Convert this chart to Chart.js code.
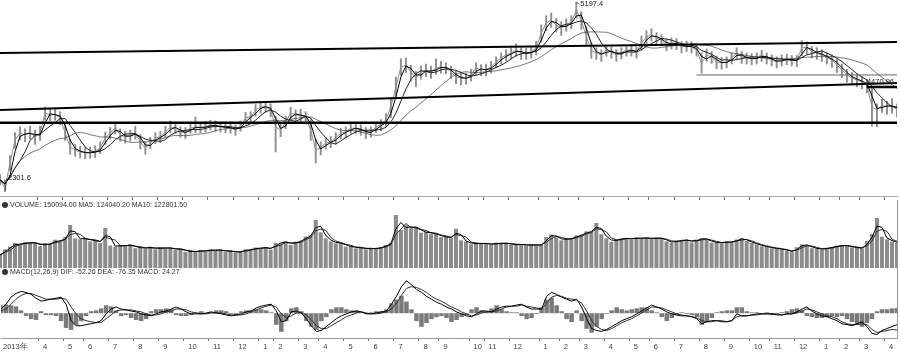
<!DOCTYPE html>
<html>
<head>
<meta charset="utf-8">
<script src="https://cdn.jsdelivr.net/npm/chart.js@4.4.1/dist/chart.umd.min.js"></script>
<style>
  body { margin: 0; background: #fff; width: 900px; height: 354px; overflow: hidden; position: relative; font-family: "Liberation Sans", Arial, sans-serif; }
  canvas { position: absolute; left: 0; }
  #price { top: 0; }
  #vol { top: 200px; }
  #macd { top: 268px; }
  .hdr { position: absolute; left: 2px; font-size: 7px; line-height: 9px; color: #333; white-space: nowrap; }
  .hdr i { display: inline-block; width: 6px; height: 6px; border-radius: 50%; background: #333; margin-right: 2px; vertical-align: -1px; }
</style>
</head>
<body>
<canvas id="price" width="900" height="200"></canvas>
<canvas id="vol" width="900" height="68"></canvas>
<canvas id="macd" width="900" height="86"></canvas>
<div class="hdr" style="top:200px"><i></i>VOLUME: 150094.00 MA5: 124040.20 MA10: 122801.50</div>
<div class="hdr" style="top:267px"><i></i>MACD(12,26,9) DIF: -52.26 DEA: -76.35 MACD: 24.27</div>
<script>
//month labels and the sample where each month starts
var monthIdx = [0,8,13,17,22,27,32,37,42,47, 52,55,60,64,69,74,79,84,88,94,97,102, 108,112,116,121,126,130,135,140,145,150,154,159, 164,168,172,177];
var monthLabels = ['2013年','4','5','6','7','8','9','10','11','12', '1','2','3','4','5','6','7','8','9','10','11','12', '1','2','3','4','5','6','7','8','9','10','11','12', '1','2','3','4'];

//price samples (close / high / low)
var closes = [
  2476,2354,2736,3088,3195,3165,3210,3134,3195,3501,
  3471,3480,3425,3195,2981,2935,2904,2889,2895,2910,
  2966,3119,3195,3272,3165,3134,3160,3195,3057,2966,
  3042,3119,3134,3210,3287,3272,3210,3195,3272,3287,
  3275,3290,3318,3302,3287,3280,3272,3241,3302,3425,
  3440,3547,3593,3600,3547,3287,3241,3363,3501,3471,
  3465,3440,3241,2935,2966,3042,3057,3119,3195,3210,
  3272,3265,3241,3195,3210,3287,3318,3394,3593,3899,
  4205,4236,4128,4037,4128,4159,4128,4190,4205,4190,
  4128,4052,4037,4030,4083,4190,4159,4165,4205,4281,
  4343,4389,4419,4465,4419,4410,4434,4496,4725,4878,
  4924,4848,4802,4848,4893,5077,4924,4664,4465,4419,
  4389,4465,4434,4389,4419,4465,4458,4434,4572,4664,
  4695,4649,4618,4542,4572,4565,4511,4526,4511,4465,
  4266,4389,4358,4281,4266,4281,4343,4419,4358,4343,
  4327,4343,4389,4343,4312,4281,4312,4327,4312,4305,
  4496,4511,4434,4419,4389,4343,4312,4236,4159,4083,
  4037,4006,3975,3930,3593,3547,3624,3593,3624,3547
];
var highs = [
  2560,2480,2850,3200,3290,3260,3300,3240,3300,3590,
  3560,3580,3520,3330,3100,3020,2990,2970,2980,3000,
  3060,3210,3280,3360,3260,3220,3240,3300,3170,3060,
  3130,3200,3220,3300,3380,3350,3290,3280,3360,3440,
  3350,3370,3390,3380,3360,3350,3350,3320,3380,3510,
  3520,3630,3680,3680,3640,3450,3330,3450,3590,3550,
  3560,3520,3400,3100,3060,3120,3140,3200,3270,3290,
  3350,3340,3320,3280,3290,3360,3400,3490,3720,4050,
  4330,4340,4230,4140,4220,4250,4220,4330,4290,4270,
  4220,4140,4120,4110,4170,4270,4240,4250,4290,4360,
  4420,4470,4500,4560,4500,4490,4510,4600,4850,4990,
  5030,4950,4900,4940,4990,5197,5050,4820,4580,4500,
  4470,4540,4510,4470,4500,4540,4530,4510,4680,4760,
  4790,4730,4700,4630,4650,4640,4590,4600,4590,4540,
  4420,4480,4440,4370,4350,4360,4420,4500,4440,4420,
  4410,4420,4460,4420,4390,4360,4390,4400,4380,4380,
  4610,4590,4520,4500,4470,4420,4390,4320,4250,4170,
  4120,4090,4060,4020,3900,3640,3710,3680,3720,3640
];
var lows = [
  2400,2302,2620,2960,3090,3060,3100,3020,3080,3390,
  3380,3390,3320,3080,2870,2840,2810,2800,2810,2820,
  2880,3020,3100,3180,3070,3040,3070,3100,2950,2870,
  2950,3030,3050,3120,3200,3190,3130,3110,3190,3200,
  3200,3210,3240,3220,3210,3200,3190,3160,3220,3330,
  3350,3450,3500,3510,3440,2904,3140,3260,3400,3380,
  3370,3330,3080,2736,2860,2950,2970,3030,3110,3120,
  3190,3180,3160,3110,3130,3200,3230,3290,3430,3720,
  4080,4120,3990,3900,4020,4060,4030,4090,4110,4100,
  4030,3950,3930,3940,3990,4090,4070,4070,4110,4190,
  4250,4300,4330,4370,4320,4320,4340,4390,4590,4760,
  4810,4740,4690,4750,4790,4950,4780,4530,4340,4320,
  4290,4370,4340,4290,4330,4370,4370,4340,4460,4560,
  4600,4560,4530,4450,4480,4470,4420,4440,4420,4370,
  4110,4290,4260,4180,4170,4190,4250,4320,4260,4250,
  4240,4250,4290,4250,4220,4190,4220,4240,4220,4210,
  4380,4410,4340,4320,4290,4250,4200,4120,4040,3970,
  3930,3900,3870,3810,3300,3290,3510,3480,3500,3440
];

var volumes = [
  78000,112000,128000,150000,138000,156000,149000,152000,131000,148000,
  142000,170000,158000,186000,258000,178000,172000,181000,160000,168000,
  150000,240000,135000,128000,138000,131000,142000,119000,125000,116000,
  128000,112000,124000,118000,121000,108000,117000,96000,102000,95000,
  108000,99000,112000,104000,109000,98000,103000,92000,99000,112000,
  108000,123000,117000,126000,110000,152000,148000,161000,139000,158000,
  163000,189000,196000,288000,214000,178000,160000,148000,151000,128000,
  131000,118000,124000,112000,119000,116000,125000,138000,152000,318000,
  228000,256000,238000,246000,212000,218000,206000,204000,185000,188000,
  179000,236000,166000,158000,142000,151000,144000,149000,138000,152000,
  146000,150000,141000,139000,143000,135000,140000,137000,139000,186000,
  201000,184000,166000,178000,174000,196000,198000,220000,218000,270000,
  203000,178000,158000,172000,176000,180000,171000,184000,176000,182000,
  175000,181000,178000,160000,152000,166000,165000,170000,154000,171000,
  178000,172000,152000,156000,149000,160000,154000,171000,178000,162000,
  150000,142000,130000,128000,118000,116000,112000,104000,95000,124000,
  142000,136000,119000,117000,111000,122000,125000,134000,136000,133000,
  124000,121000,118000,162000,204000,300000,188000,172000,158000,150094
];

var dif = [
  19,41,73,90,99,95,86,68,55,59,
  64,68,73,41,-34,-57,-57,-52,-48,-43,
  -34,-3,19,28,19,15,10,6,-3,-8,
  -12,-3,6,10,19,28,19,6,-3,-3,
  -3,1,6,1,-3,-8,-12,-8,-3,6,
  10,24,32,37,41,10,-39,-34,6,10,
  1,-25,-57,-83,-79,-61,-43,-25,-12,-3,
  6,10,6,-3,-3,1,6,10,41,77,
  121,148,130,108,95,77,64,50,41,28,
  19,6,-3,-12,-16,-3,10,10,6,19,
  28,32,32,37,41,28,19,19,19,77,
  95,86,73,64,55,64,28,-25,-70,-79,
  -83,-74,-61,-48,-34,-25,-16,-3,10,24,
  37,28,19,6,-3,-8,-12,-12,-16,-25,
  -48,-39,-34,-34,-39,-39,-34,-3,-12,-12,
  -8,-3,-3,-3,-3,-8,-8,-3,-3,6,
  19,28,10,-3,-12,-16,-25,-34,-48,-52,
  -57,-48,-39,-61,-92,-97,-79,-70,-61,-52.26
];
var dea = [
  10,19,41,64,81,90,90,81,73,64,
  64,64,68,64,28,-3,-25,-34,-39,-43,
  -43,-25,-8,10,15,15,15,10,6,-3,
  -8,-8,-3,6,10,19,19,15,6,1,
  -3,-3,1,1,1,-3,-8,-8,-8,-3,
  6,15,24,32,37,28,-3,-21,-12,1,
  1,-8,-30,-57,-70,-70,-57,-43,-30,-16,
  -8,1,6,1,-3,-3,1,6,19,46,
  81,113,121,117,108,95,77,64,55,41,
  28,19,6,-3,-12,-8,1,6,6,10,
  19,28,32,32,37,32,28,24,19,46,
  73,81,77,68,64,59,46,10,-34,-61,
  -74,-79,-70,-57,-43,-34,-25,-12,1,15,
  28,28,24,15,6,-3,-8,-12,-16,-21,
  -34,-39,-39,-34,-34,-39,-34,-16,-12,-12,
  -8,-8,-3,-3,-3,-3,-8,-3,-3,1,
  10,19,15,6,-3,-12,-16,-25,-39,-48,
  -52,-52,-48,-52,-74,-88,-83,-79,-74,-76.35
];
var macdHist = [
  36,40,36,31,13,-13,-27,-31,9,-9,
  -9,-13,-36,-67,-76,-53,-36,-13,9,13,
  22,36,31,13,-13,-9,-22,-31,-36,-27,
  9,18,18,22,18,-9,-13,-13,-9,4,
  9,-4,4,13,13,9,-4,-9,9,13,
  13,18,18,13,4,-53,-85,-36,22,27,
  9,-36,-62,-76,-36,-18,18,27,27,18,
  13,13,4,-4,4,9,9,18,45,62,
  80,53,18,-36,-62,-45,-27,-18,-13,-22,
  -40,-31,-18,-9,18,27,13,9,22,36,
  18,9,4,4,-13,-27,-22,-4,27,62,
  71,36,9,-27,-40,13,-36,-71,-89,-62,
  -27,-4,13,27,18,13,18,22,27,27,
  13,4,-18,-36,-22,-9,4,-4,-9,-18,
  -53,-40,-22,4,9,13,13,27,27,9,
  4,4,-4,4,-9,-4,4,9,18,22,
  13,-13,-18,-22,-22,-18,-13,-18,-13,-27,
  -40,-53,-62,-45,-27,9,18,18,22,24.27
];

//drawn lines: [startIdx, startValue, endIdx, endValue]
var trendTop = [0, 4419, 179, 4587];
var trendMid = [0, 3547, 179, 3960];
var supportLine = [0, 3353, 179, 3353];
var boxLine = [139, 4083, 179, 4083];
var markLine = [173, 3899, 179, 3899];

var N = closes.length;
var cats = [];
for (var i = 0; i < N; i++) cats.push('');
monthIdx.forEach(function (d, k) { cats[d] = monthLabels[k]; });

function movingAvg(arr, n) {
  return arr.map(function (v, i) {
    var s = 0, c = 0;
    for (var k = Math.max(0, i - n + 1); k <= i; k++) { s += arr[k]; c++; }
    return s / c;
  });
}

function segment(t) {
  var d = cats.map(function () { return null; });
  d[t[0]] = t[1];
  d[t[2]] = t[3];
  return d;
}

function lineSet(data, color, width, extra) {
  var s = { type: 'line', data: data, borderColor: color, borderWidth: width, pointRadius: 0, tension: 0, fill: false, spanGaps: true };
  for (var k in extra) s[k] = extra[k];
  return s;
}

function monthTick(c) { return cats[c.index] ? '#777' : 'rgba(0,0,0,0)'; }

var font = { family: 'Liberation Sans', size: 7.5 };

//right axis: no ticks, no width
function sideAxis(min, max, showBorder) {
  return {
    position: 'right', min: min, max: max,
    grid: { display: false, drawTicks: false, tickLength: 0 },
    ticks: { display: false },
    border: { display: showBorder, color: '#999' }
  };
}

var common = {
  responsive: false,
  animation: false,
  layout: { padding: { right: 3, left: 0, top: 0, bottom: 0 } },
  plugins: { legend: { display: false }, tooltip: { enabled: false } }
};

//price labels written next to marks
const notePlugin = {
  id: 'priceNotes',
  afterDatasetsDraw: (chart) => {
    let ctx = chart.ctx;
    let xs = chart.scales.x, ys = chart.scales.y;
    let notes = [
      { i: 115, v: 5197.4, text: '5197.4', dx: 4, dy: 2 },
      { i: 1, v: 2301.6, text: '2301.6', dx: 3, dy: -13 },
      { i: 173, v: 3899, text: '4470.96', dx: 0, dy: -5 }
    ];
    ctx.save();
    ctx.font = '7.5px "Liberation Sans", Arial, sans-serif';
    ctx.fillStyle = '#222';
    ctx.strokeStyle = '#444';
    ctx.lineWidth = 0.8;
    ctx.textBaseline = 'middle';
    notes.forEach(function (n) {
      let x = xs.getPixelForValue(n.i), y = ys.getPixelForValue(n.v);
      ctx.beginPath();
      ctx.moveTo(x, y);
      ctx.lineTo(x + n.dx - 1, y + n.dy);
      ctx.stroke();
      ctx.fillText(n.text, x + n.dx, y + n.dy);
    });
    ctx.restore();
  }
};

new Chart(document.getElementById('price').getContext('2d'), {
  type: 'bar',
  plugins: [notePlugin],
  data: {
    labels: cats,
    datasets: [
      lineSet(segment(trendTop), '#000', 2),
      lineSet(segment(trendMid), '#000', 2),
      lineSet(segment(supportLine), '#000', 2.5),
      lineSet(segment(markLine), '#000', 2.5),
      lineSet(segment(boxLine), '#666', 1),
      lineSet(movingAvg(closes, 2), '#000', 1),
      lineSet(movingAvg(closes, 5), '#222', 1),
      lineSet(movingAvg(closes, 14), '#555', 0.8),
      lineSet(closes, '#909090', 1),
      {
        type: 'bar',
        data: lows.map(function (l, k) { return [l, highs[k]]; }),
        backgroundColor: '#909090',
        barThickness: 1.3
      }
    ]
  },
  options: Object.assign({}, common, {
    scales: {
      x: {
        offset: false,
        grid: { drawOnChartArea: false, tickLength: 4, tickColor: monthTick },
        border: { display: true, color: '#aaa' },
        ticks: { display: false, autoSkip: false, maxRotation: 0 }
      },
      y: sideAxis(2231, 5230, false)
    }
  })
});

new Chart(document.getElementById('vol').getContext('2d'), {
  type: 'bar',
  data: {
    labels: cats,
    datasets: [
      lineSet(movingAvg(volumes, 2), '#000', 1),
      lineSet(movingAvg(volumes, 3), '#333', 1),
      {
        type: 'bar',
        data: volumes,
        backgroundColor: '#8c8c8c',
        categoryPercentage: 1,
        barPercentage: 0.8
      }
    ]
  },
  options: Object.assign({}, common, {
    scales: {
      x: { display: false, offset: false },
      y: sideAxis(0, 408000, true)
    }
  })
});

new Chart(document.getElementById('macd').getContext('2d'), {
  type: 'bar',
  data: {
    labels: cats,
    datasets: [
      lineSet(dif, '#000', 1),
      lineSet(dea, '#333', 1),
      {
        type: 'bar',
        data: macdHist,
        backgroundColor: '#7a7a7a',
        categoryPercentage: 1,
        barPercentage: 0.9
      }
    ]
  },
  options: Object.assign({}, common, {
    layout: { padding: { right: 3, left: 0, top: 0, bottom: 2 } },
    scales: {
      x: {
        offset: false,
        grid: { drawOnChartArea: false, tickLength: 3, tickColor: monthTick },
        border: { display: true, color: '#999' },
        ticks: { autoSkip: false, maxRotation: 0, minRotation: 0, align: 'start', padding: 1, labelOffset: 2, color: '#444', font: font }
      },
      y: sideAxis(-113, 206, true)
    }
  })
});
</script>
</body>
</html>
